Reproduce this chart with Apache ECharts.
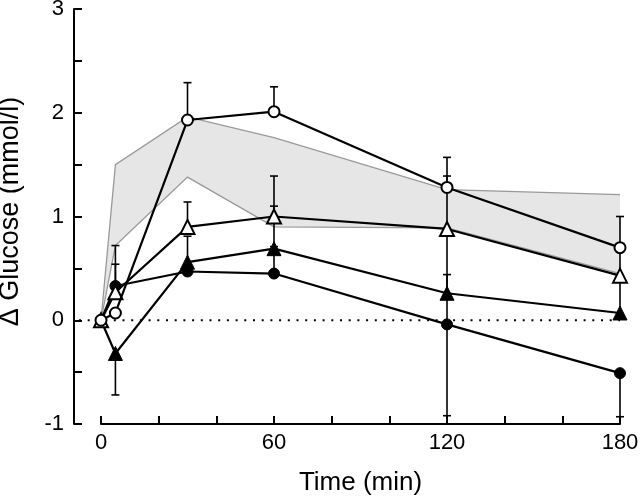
<!DOCTYPE html>
<html>
<head>
<meta charset="utf-8">
<script src="https://cdn.jsdelivr.net/npm/echarts@6/dist/echarts.min.js"></script>
<style>
html,body{margin:0;padding:0;background:#fff;}
#chart{width:640px;height:497px;}
</style>
</head>
<body>
<div id="chart"></div>
<script>
// ---- data ----
const times = [0, 5, 30, 60, 120, 180];

// open circles
const ocValues  = [0, 0.07, 1.93, 2.01, 1.28, 0.70];
const ocErrUp   = [0, 0, 0.36, 0.24, 0.29, 0.30];
const ocErrDown = [0, 0, 0, 0, 0, 0.30];

// open triangles
const otValues  = [0, 0.27, 0.90, 1.00, 0.88, 0.43];
const otErrUp   = [0, 0.27, 0.24, 0.39, 0.51, 0];
const otErrDown = [0, 0, 0, 0, 0, 0.38];

// filled triangles
const ftValues  = [0, -0.32, 0.56, 0.69, 0.26, 0.07];
const ftErrUp   = [0, 0, 0.25, 0.41, 0.18, 0];
const ftErrDown = [0, 0.40, 0, 0, 0, 0];

// filled circles
const fcValues  = [0, 0.33, 0.47, 0.45, -0.04, -0.51];
const fcErrUp   = [0, 0.39, 0, 0.26, 0.88, 0];
const fcErrDown = [0, 0, 0, 0, 0.88, 0.42];

// shaded reference band
const bandUpper = [0, 1.50, 1.96, 1.76, 1.26, 1.21];
const bandLower = [0, 0.72, 1.38, 0.90, 0.89, 0.45];

const yTicks = [-1, 0, 1, 2, 3];
const xTickLabels = [0, 60, 120, 180];

// ---- layout constants ----
const Y_AXIS_OFFSET = 27;   // y axis drawn detached, left of time 0

function pairs(vals) { return times.map((t, i) => [t, vals[i]]); }
function errData(vals, up, down) {
  return times.map((t, i) => [t, vals[i], down[i], up[i]]);
}

function errRender(params, api) {
  const t = api.value(0), v = api.value(1), dn = api.value(2), up = api.value(3);
  if (!(dn > 0) && !(up > 0)) return null;
  const lo = api.coord([t, v - (dn || 0)]);
  const hi = api.coord([t, v + (up || 0)]);
  const cw = 4;
  const style = { stroke: '#000', lineWidth: 1.6 };
  const children = [{ type: 'line', shape: { x1: lo[0], y1: lo[1], x2: hi[0], y2: hi[1] }, style }];
  if (up > 0) children.push({ type: 'line', shape: { x1: hi[0] - cw, y1: hi[1], x2: hi[0] + cw, y2: hi[1] }, style });
  if (dn > 0) children.push({ type: 'line', shape: { x1: lo[0] - cw, y1: lo[1], x2: lo[0] + cw, y2: lo[1] }, style });
  return { type: 'group', children };
}

function errSeries(vals, up, down) {
  return {
    type: 'custom', z: 3, silent: true, clip: false,
    renderItem: errRender, data: errData(vals, up, down)
  };
}

function mainSeries(vals, symbol, size, open, z) {
  return {
    type: 'line', z: z, silent: true, clip: false,
    data: pairs(vals), symbol: symbol, symbolSize: size, showSymbol: true,
    lineStyle: { color: '#000', width: 2.2 },
    itemStyle: open ? { color: '#fff', borderColor: '#000', borderWidth: 2 } : { color: '#000', borderColor: '#000', borderWidth: 1 },
    emphasis: { disabled: true }
  };
}

function bandRender(params, api) {
  const up = times.map((t, i) => api.coord([t, bandUpper[i]]));
  const lo = times.map((t, i) => api.coord([t, bandLower[i]]));
  const poly = up.concat(lo.slice().reverse());
  const edge = { stroke: '#999', lineWidth: 1.3, fill: null };
  return {
    type: 'group',
    children: [
      { type: 'polygon', shape: { points: poly }, style: { fill: '#e6e6e6', stroke: null } },
      { type: 'polyline', shape: { points: up }, style: edge },
      { type: 'polyline', shape: { points: lo }, style: edge }
    ]
  };
}

function zeroRender(params, api) {
  const a = api.coord([0, 0]);
  const b = api.coord([times[times.length - 1], 0]);
  return {
    type: 'line',
    shape: { x1: a[0] - Y_AXIS_OFFSET + 5, y1: a[1], x2: b[0], y2: b[1] },
    style: { stroke: '#000', lineWidth: 2, lineDash: [2, 6.7] }
  };
}

const chart = echarts.init(document.getElementById('chart'), null, { renderer: 'canvas' });
const font = '"Liberation Sans", Arial, Helvetica, sans-serif';

chart.setOption({
  animation: false,
  backgroundColor: '#fff',
  grid: { left: 101, right: 20, top: 9, bottom: 73, containLabel: false, outerBoundsMode: 'none' },
  xAxis: {
    type: 'value', min: 0, max: 180, interval: 20,
    axisLine: { show: true, onZero: false, lineStyle: { color: '#000', width: 2 } },
    axisTick: { show: true, inside: true, length: 8, lineStyle: { color: '#000', width: 2 } },
    splitLine: { show: false },
    axisLabel: {
      color: '#000', fontSize: 22, fontFamily: font, margin: 8,
      formatter: v => (xTickLabels.indexOf(v) >= 0 ? String(v) : '')
    },
    name: 'Time (min)', nameLocation: 'middle', nameGap: 46,
    nameTextStyle: { color: '#000', fontSize: 26, fontFamily: font }
  },
  yAxis: {
    type: 'value', min: yTicks[0], max: yTicks[yTicks.length - 1], interval: 1,
    offset: Y_AXIS_OFFSET,
    axisLine: { show: true, onZero: false, lineStyle: { color: '#000', width: 2 } },
    axisTick: { show: true, inside: true, length: 8, lineStyle: { color: '#000', width: 2 } },
    minorTick: { show: true, splitNumber: 2, length: 8, lineStyle: { color: '#000', width: 2 } },
    splitLine: { show: false },
    axisLabel: { color: '#000', fontSize: 22, fontFamily: font, margin: 10 },
    name: 'Δ Glucose (mmol/l)', nameLocation: 'middle', nameGap: 50, nameRotate: 90,
    nameTextStyle: { color: '#000', fontSize: 27, fontFamily: font, padding: [0, 0, 0, 10] }
  },
  series: [
    { type: 'custom', z: 1, silent: true, clip: false, renderItem: bandRender, data: [[0, 0]] },
    { type: 'custom', z: 2, silent: true, clip: false, renderItem: zeroRender, data: [[0, 0]] },
    errSeries(ftValues, ftErrUp, ftErrDown),
    errSeries(fcValues, fcErrUp, fcErrDown),
    errSeries(otValues, otErrUp, otErrDown),
    errSeries(ocValues, ocErrUp, ocErrDown),
    mainSeries(ftValues, 'triangle', 14, false, 5),
    mainSeries(fcValues, 'circle', 11, false, 6),
    mainSeries(otValues, 'triangle', 14, true, 7),
    mainSeries(ocValues, 'circle', 11, true, 8)
  ]
});
</script>
</body>
</html>
